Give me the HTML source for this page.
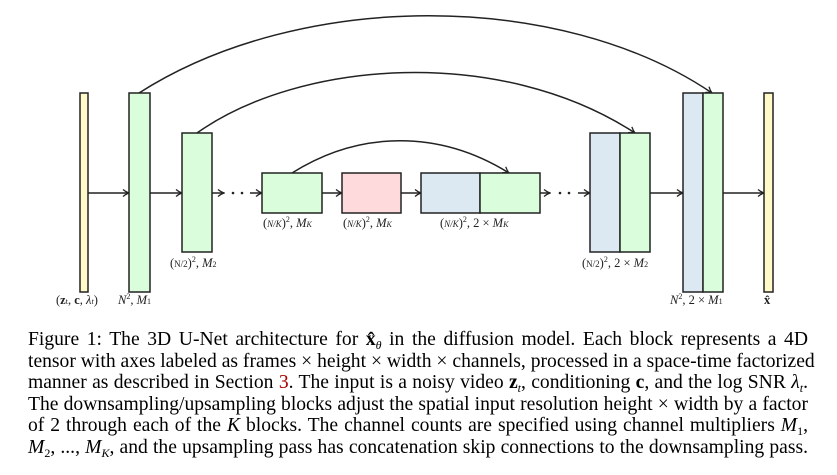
<!DOCTYPE html>
<html><head><meta charset="utf-8"><style>
body{margin:0;background:#fff;width:837px;height:475px;overflow:hidden;position:relative;font-family:"Liberation Serif",serif;}
svg{position:absolute;left:0;top:0}
.cap{position:absolute;left:28px;width:780px;font-size:19.6px;line-height:21.6px;top:329px;color:#000}
.cap div{text-align:justify;text-align-last:justify;white-space:nowrap;height:21.6px}
i{font-style:italic}
b{font-weight:bold}
.s{font-size:12px;position:relative;top:4px;line-height:0}
</style></head><body>
<svg width="837" height="320" viewBox="0 0 837 320" font-family="Liberation Serif, serif">
<defs><marker id="a" markerWidth="8" markerHeight="8" refX="7" refY="4" orient="auto" markerUnits="userSpaceOnUse"><path d="M1,0.5 Q4,3 7,4 Q4,5 1,7.5" fill="none" stroke="#222" stroke-width="1.3"/></marker></defs>
<g stroke="#222" stroke-width="1.5" fill="none">
<path d="M139,93 C300,-10 560,-10 712,93" marker-end="url(#a)"/>
<path d="M197,133 C300,60 500,45 635,133" marker-end="url(#a)"/>
<path d="M292,173 C360,130 440,130 509,173" marker-end="url(#a)"/>
<path d="M88,193 H129" marker-end="url(#a)"/>
<path d="M150,193 H182" marker-end="url(#a)"/>
<path d="M212,193 H224" marker-end="url(#a)"/>
<path d="M250,193 H262" marker-end="url(#a)"/>
<path d="M322,193 H342" marker-end="url(#a)"/>
<path d="M401,193 H421" marker-end="url(#a)"/>
<path d="M540,193 H550" marker-end="url(#a)"/>
<path d="M578,193 H590" marker-end="url(#a)"/>
<path d="M650,193 H683" marker-end="url(#a)"/>
<path d="M723,193 H764" marker-end="url(#a)"/>
</g>
<g fill="#222"><circle cx="233" cy="193" r="1.3"/><circle cx="242" cy="193" r="1.3"/><circle cx="560" cy="193" r="1.3"/><circle cx="569" cy="193" r="1.3"/></g>
<g stroke="#222" stroke-width="1.5">
<rect x="80" y="93" width="8" height="199" fill="#fffac8"/>
<rect x="129" y="93" width="21" height="199" fill="#dafedb"/>
<rect x="182" y="133" width="30" height="119" fill="#dafedb"/>
<rect x="262" y="173" width="60" height="40" fill="#dafedb"/>
<rect x="342" y="173" width="59" height="40" fill="#ffdadc"/>
<rect x="421" y="173" width="59" height="40" fill="#dce9f3"/>
<rect x="480" y="173" width="60" height="40" fill="#dafedb"/>
<rect x="590" y="133" width="30" height="119" fill="#dce9f3"/>
<rect x="620" y="133" width="30" height="119" fill="#dafedb"/>
<rect x="683" y="93" width="20" height="199" fill="#dce9f3"/>
<rect x="703" y="93" width="20" height="199" fill="#dafedb"/>
<rect x="764" y="93" width="9" height="199" fill="#fffac8"/>
</g>
<g font-size="12.5" fill="#222">
<text x="56" y="304">(<tspan font-weight="bold">z</tspan><tspan font-size="8">t</tspan>, <tspan font-weight="bold">c</tspan>, <tspan font-style="italic">λ</tspan><tspan font-size="8" font-style="italic">t</tspan>)</text>
<text x="118" y="304" font-style="italic">N<tspan font-size="8" dy="-5" font-style="normal">2</tspan><tspan dy="5" font-style="normal">, </tspan>M<tspan font-size="8" font-style="normal">1</tspan></text>
<text x="170" y="267">(<tspan font-size="9">N/2</tspan>)<tspan font-size="8" dy="-5">2</tspan><tspan dy="5">, </tspan><tspan font-style="italic">M</tspan><tspan font-size="8">2</tspan></text>
<text x="263" y="227">(<tspan font-size="9" font-style="italic">N/K</tspan>)<tspan font-size="8" dy="-5">2</tspan><tspan dy="5">, </tspan><tspan font-style="italic">M</tspan><tspan font-size="8" font-style="italic">K</tspan></text>
<text x="343" y="227">(<tspan font-size="9" font-style="italic">N/K</tspan>)<tspan font-size="8" dy="-5">2</tspan><tspan dy="5">, </tspan><tspan font-style="italic">M</tspan><tspan font-size="8" font-style="italic">K</tspan></text>
<text x="440" y="227">(<tspan font-size="9" font-style="italic">N/K</tspan>)<tspan font-size="8" dy="-5">2</tspan><tspan dy="5">, 2 × </tspan><tspan font-style="italic">M</tspan><tspan font-size="8" font-style="italic">K</tspan></text>
<text x="582" y="267">(<tspan font-size="9">N/2</tspan>)<tspan font-size="8" dy="-5">2</tspan><tspan dy="5">, 2 × </tspan><tspan font-style="italic">M</tspan><tspan font-size="8">2</tspan></text>
<text x="670" y="304" font-style="italic">N<tspan font-size="8" dy="-5" font-style="normal">2</tspan><tspan dy="5" font-style="normal">, 2 × </tspan>M<tspan font-size="8" font-style="normal">1</tspan></text>
<text x="764" y="304" font-weight="bold">x̂</text>
</g>
</svg>
<div class="cap">
<div>Figure 1: The 3D U-Net architecture for <b>x̂</b><span class="s"><i>θ</i></span> in the diffusion model. Each block represents a 4D</div>
<div>tensor with axes labeled as frames × height × width × channels, processed in a space-time factorized</div>
<div>manner as described in Section <span style="color:#a00">3</span>. The input is a noisy video <b>z</b><span class="s"><i>t</i></span>, conditioning <b>c</b>, and the log SNR <i>λ</i><span class="s"><i>t</i></span>.</div>
<div>The downsampling/upsampling blocks adjust the spatial input resolution height × width by a factor</div>
<div>of 2 through each of the <i>K</i> blocks. The channel counts are specified using channel multipliers <i>M</i><span class="s">1</span>,</div>
<div><i>M</i><span class="s">2</span>, ..., <i>M</i><span class="s"><i>K</i></span>, and the upsampling pass has concatenation skip connections to the downsampling pass.</div>
</div>
</body></html>
